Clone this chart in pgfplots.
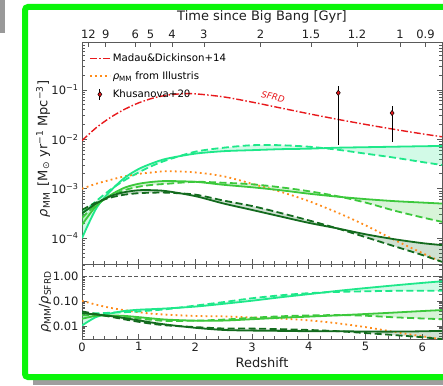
\documentclass[border=0pt]{standalone}
\usepackage{pgfplots}
\pgfplotsset{compat=1.18}
\usepackage{pgfplotstable}
\usepackage{fontspec}
\setmainfont{DejaVu Sans}

\definecolor{mdred}{HTML}{E8191C}
\definecolor{illorange}{HTML}{FF8C1A}
\definecolor{gbright}{HTML}{1EE88A}
\definecolor{gmid}{HTML}{3CC83C}
\definecolor{gdark}{HTML}{136B1E}
\definecolor{framegreen}{HTML}{0AF50A}
\definecolor{spine}{HTML}{5A5A5A}

% cosmic density of molecular mass (solid / dashed model pairs) and Illustris
\pgfplotstableread{
z     bgs      bgd      mgs      mgd      dgs      dgd      ill
0     1.00e-4  3.16e-4  1.86e-4  2.57e-4  3.16e-4  3.72e-4  1.00e-3
0.25  3.98e-4  5.62e-4  4.47e-4  4.79e-4  5.01e-4  5.25e-4  1.26e-3
0.5   8.91e-4  9.55e-4  7.41e-4  7.08e-4  7.08e-4  6.61e-4  1.51e-3
0.75  1.66e-3  1.48e-3  1.05e-3  9.33e-4  8.51e-4  7.59e-4  1.78e-3
1     2.51e-3  2.14e-3  1.26e-3  1.10e-3  9.33e-4  8.13e-4  2.00e-3
1.25  3.31e-3  2.95e-3  1.38e-3  1.20e-3  9.33e-4  8.32e-4  2.14e-3
1.5   4.07e-3  3.80e-3  1.43e-3  1.26e-3  8.91e-4  8.32e-4  2.26e-3
2     5.13e-3  5.62e-3  1.38e-3  1.38e-3  7.08e-4  7.59e-4  2.14e-3
2.5   5.75e-3  6.76e-3  1.20e-3  1.32e-3  5.01e-4  5.75e-4  1.78e-3
3     6.03e-3  7.59e-3  1.07e-3  1.23e-3  3.72e-4  4.47e-4  1.26e-3
3.5   6.31e-3  7.59e-3  9.33e-4  1.07e-3  2.75e-4  3.24e-4  8.71e-4
4     6.46e-3  7.08e-3  7.94e-4  8.91e-4  2.04e-4  2.29e-4  5.62e-4
4.5   6.76e-3  6.17e-3  6.92e-4  7.08e-4  1.58e-4  1.58e-4  3.31e-4
5     6.92e-3  5.13e-3  6.17e-4  5.25e-4  1.20e-4  1.05e-4  1.82e-4
5.5   7.08e-3  4.27e-3  5.62e-4  3.63e-4  9.55e-5  6.92e-5  9.33e-5
6     7.24e-3  3.47e-3  5.25e-4  2.63e-4  7.94e-5  4.57e-5  5.01e-5
6.35  7.33e-3  3.02e-3  5.01e-4  2.14e-4  7.24e-5  3.31e-5  3.31e-5
}\rhotab

% the same densities divided by the SFRD
\pgfplotstableread{
z     bgs       bgd       mgs       mgd       dgs       dgd       ill
0     1.059e-2  3.35e-2   1.972e-2  2.723e-2  3.35e-2   3.936e-2  0.1059
0.25  2.328e-2  3.29e-2   2.612e-2  2.799e-2  2.931e-2  3.069e-2  7.362e-2
0.5   3.236e-2  3.467e-2  2.692e-2  2.570e-2  2.570e-2  2.399e-2  5.495e-2
0.75  4.10e-2   3.656e-2  2.588e-2  2.307e-2  2.104e-2  1.875e-2  4.395e-2
1     4.60e-2   3.917e-2  2.307e-2  2.009e-2  1.710e-2  1.489e-2  3.656e-2
1.25  4.875e-2  4.345e-2  2.032e-2  1.770e-2  1.374e-2  1.225e-2  3.148e-2
1.5   5.21e-2   4.864e-2  1.828e-2  1.611e-2  1.140e-2  1.064e-2  2.897e-2
2     6.166e-2  6.761e-2  1.660e-2  1.660e-2  8.511e-3  9.120e-3  2.570e-2
2.5   8.0e-2    9.397e-2  1.671e-2  1.832e-2  6.966e-3  7.998e-3  2.472e-2
3     0.1067    0.1343    1.897e-2  2.178e-2  6.577e-3  7.907e-3  2.228e-2
3.5   0.1466    0.1762    2.168e-2  2.489e-2  6.397e-3  7.516e-3  2.023e-2
4     0.1963    0.2153    2.415e-2  2.710e-2  6.209e-3  6.966e-3  1.710e-2
4.5   0.2655    0.2421    2.716e-2  2.780e-2  6.223e-3  6.223e-3  1.300e-2
5     0.3459    0.2564    3.083e-2  2.624e-2  6.012e-3  5.236e-3  9.099e-3
5.5   0.4436    0.2673    3.524e-2  2.275e-2  5.984e-3  4.335e-3  5.848e-3
6     0.5610    0.2685    4.064e-2  2.037e-2  6.152e-3  3.540e-3  3.882e-3
6.35  0.6516    0.2685    4.457e-2  1.901e-2  6.442e-3  2.944e-3  2.944e-3
}\ratiotab

\tikzset{
  mdstyle/.style={mdred, line width=1.4pt, dash pattern=on 7pt off 2.2pt on 1.5pt off 2.2pt},
  illstyle/.style={illorange, line width=1.8pt, dash pattern=on 1.8pt off 3.2pt},
}

\pgfplotsset{
  panel/.style={
    scale only axis, width=360pt, xmin=0, xmax=6.35,
    axis line style={spine, line width=0.8pt},
    tick style={spine, line width=0.7pt},
    major tick length=5pt, minor tick length=2.8pt, tick align=inside,
    ticklabel style={font=\fontsize{11.5}{13}\selectfont, text=black!88},
    label style={font=\fontsize{13}{15}\selectfont, text=black!88},
    /pgf/number format/assume math mode=true,
    xtick={0,...,6}, minor x tick num=4, ytick pos=both,
  },
  solidline/.style={#1, line width=1.8pt, smooth},
  dashline/.style={#1, line width=1.8pt, smooth, dash pattern=on 7pt off 3.5pt},
  band/.style={fill=#1, fill opacity=0.2, draw=none, forget plot},
}

\begin{document}
\begin{tikzpicture}
\useasboundingbox (0pt,0pt) rectangle (443pt,385pt);
% window frame
\fill[black!38] (33pt,0pt) rectangle (443pt,372pt);
\draw[framegreen, line width=6pt, rounded corners=3pt, fill=white] (25pt,8pt) rectangle (470pt,378pt);
\fill[black!40] (0pt,352pt) rectangle (5pt,385pt);

% upper panel: molecular mass density
\begin{axis}[panel, at={(82pt,121pt)}, anchor=south west, height=222pt,
  ymode=log, ymin=3e-5, ymax=0.93,
  xticklabels={}, xtick pos=bottom,
  ytick={1e-4,1e-3,1e-2,1e-1},
  yticklabels={10\textsuperscript{−4},10\textsuperscript{−3},10\textsuperscript{−2},10\textsuperscript{−1}},
  minor ytick={3e-5,4e-5,5e-5,6e-5,7e-5,8e-5,9e-5,2e-4,3e-4,4e-4,5e-4,6e-4,7e-4,8e-4,9e-4,
    2e-3,3e-3,4e-3,5e-3,6e-3,7e-3,8e-3,9e-3,2e-2,3e-2,4e-2,5e-2,6e-2,7e-2,8e-2,9e-2,
    2e-1,3e-1,4e-1,5e-1,6e-1,7e-1,8e-1,9e-1},
  ylabel={{\itshape ρ}\textsubscript{MM}\enspace[M\textsubscript{⊙} yr\textsuperscript{−1} Mpc\textsuperscript{−3}]},
  ylabel style={at={(axis description cs:-0.108,0.518)}, anchor=center},
  legend style={at={(axis description cs:0.016,0.962)}, anchor=north west, draw=none, fill=none,
    font=\fontsize{10.2}{12}\selectfont, row sep=4.8pt, inner sep=1pt,
    /tikz/every even column/.append style={column sep=4pt}},
  legend cell align=left,
]
% shaded ranges between the solid and dashed models
\addplot[band=gbright] coordinates {(0,1.00e-4) (0.25,3.98e-4) (0.5,8.91e-4) (0.75,1.66e-3) (1,2.51e-3)
  (1.25,3.31e-3) (1.5,4.07e-3) (2,5.13e-3) (2.5,5.75e-3) (3,6.03e-3) (3.5,6.31e-3) (4,6.46e-3)
  (4.5,6.76e-3) (5,6.92e-3) (5.5,7.08e-3) (6,7.24e-3) (6.35,7.33e-3)
  (6.35,3.02e-3) (6,3.47e-3) (5.5,4.27e-3) (5,5.13e-3) (4.5,6.17e-3) (4,7.08e-3) (3.5,7.59e-3)
  (3,7.59e-3) (2.5,6.76e-3) (2,5.62e-3) (1.5,3.80e-3) (1.25,2.95e-3) (1,2.14e-3) (0.75,1.48e-3)
  (0.5,9.55e-4) (0.25,5.62e-4) (0,3.16e-4)};
\addplot[band=gmid] coordinates {(0,1.86e-4) (0.25,4.47e-4) (0.5,7.41e-4) (0.75,1.05e-3) (1,1.26e-3)
  (1.25,1.38e-3) (1.5,1.43e-3) (2,1.38e-3) (2.5,1.20e-3) (3,1.07e-3) (3.5,9.33e-4) (4,7.94e-4)
  (4.5,6.92e-4) (5,6.17e-4) (5.5,5.62e-4) (6,5.25e-4) (6.35,5.01e-4)
  (6.35,2.14e-4) (6,2.63e-4) (5.5,3.63e-4) (5,5.25e-4) (4.5,7.08e-4) (4,8.91e-4) (3.5,1.07e-3)
  (3,1.23e-3) (2.5,1.32e-3) (2,1.38e-3) (1.5,1.26e-3) (1.25,1.20e-3) (1,1.10e-3) (0.75,9.33e-4)
  (0.5,7.08e-4) (0.25,4.79e-4) (0,2.57e-4)};
\addplot[band=gdark] coordinates {(0,3.16e-4) (0.25,5.01e-4) (0.5,7.08e-4) (0.75,8.51e-4) (1,9.33e-4)
  (1.25,9.33e-4) (1.5,8.91e-4) (2,7.08e-4) (2.5,5.01e-4) (3,3.72e-4) (3.5,2.75e-4) (4,2.04e-4)
  (4.5,1.58e-4) (5,1.20e-4) (5.5,9.55e-5) (6,7.94e-5) (6.35,7.24e-5)
  (6.35,3.31e-5) (6,4.57e-5) (5.5,6.92e-5) (5,1.05e-4) (4.5,1.58e-4) (4,2.29e-4) (3.5,3.24e-4)
  (3,4.47e-4) (2.5,5.75e-4) (2,7.59e-4) (1.5,8.32e-4) (1.25,8.32e-4) (1,8.13e-4) (0.75,7.59e-4)
  (0.5,6.61e-4) (0.25,5.25e-4) (0,3.72e-4)};

\addplot[mdstyle, smooth,
  legend image code/.code={\draw[mdstyle] (0pt,0pt) -- (20pt,0pt);}]
  coordinates {(0,9.43e-3) (0.25,1.711e-2) (0.5,2.756e-2) (0.75,4.04e-2) (1,5.46e-2)
  (1.25,6.80e-2) (1.5,7.81e-2) (1.75,8.32e-2) (2,8.31e-2) (2.5,7.20e-2) (3,5.65e-2)
  (3.5,4.31e-2) (4,3.29e-2) (4.5,2.546e-2) (5,2.00e-2) (5.5,1.595e-2) (6,1.291e-2) (6.35,1.125e-2)};
\addlegendentry{Madau\&Dickinson+14}
\addplot[illstyle, smooth,
  legend image code/.code={\draw[illstyle] (0pt,0pt) -- (20pt,0pt);}]
  table[x=z, y=ill] {\rhotab};
\addlegendentry{{\itshape ρ}\textsubscript{MM} from Illustris}

\addplot[solidline=gbright, forget plot] table[x=z, y=bgs] {\rhotab};
\addplot[dashline=gbright, forget plot] table[x=z, y=bgd] {\rhotab};
\addplot[solidline=gmid, forget plot] table[x=z, y=mgs] {\rhotab};
\addplot[dashline=gmid, forget plot] table[x=z, y=mgd] {\rhotab};
\addplot[solidline=gdark, forget plot] table[x=z, y=dgs] {\rhotab};
\addplot[dashline=gdark, forget plot] table[x=z, y=dgd] {\rhotab};

% Khusanova+20 measurements with their error bars
\addplot[black, line width=1pt, forget plot] coordinates {(4.52,0.0077) (4.52,0.12)};
\addplot[black, line width=1pt, forget plot] coordinates {(5.47,0.009) (5.47,0.048)};
\addplot[only marks, mark=diamond*, mark size=2.7pt,
  mark options={fill=mdred, draw=black, line width=0.5pt},
  legend image code/.code={
    \draw[black, line width=1pt] (10pt,-5.5pt) -- (10pt,5.5pt);
    \draw[mark=diamond*, mark size=2.7pt, mark options={fill=mdred, draw=black, line width=0.5pt}]
      plot coordinates {(10pt,0pt)};}]
  coordinates {(4.52,0.087) (5.47,0.034)};
\addlegendentry{Khusanova+20}

\node[mdred, rotate=-11.6, font=\itshape\fontsize{8.8}{10}\selectfont] at (axis cs:3.37,0.072) {SFRD};
\end{axis}

% time since the Big Bang along the top
\begin{axis}[scale only axis, at={(82pt,121pt)}, anchor=south west, width=360pt, height=222pt,
  xmin=0, xmax=6.35, ymin=0, ymax=1, hide y axis, axis x line*=top,
  axis line style={spine, line width=0.8pt},
  tick style={spine, line width=0.7pt}, major tick length=5pt, tick align=inside,
  xtick={0.113,0.42,0.94,1.21,1.59,2.15,3.15,4.04,4.85,5.61,6.06},
  xticklabels={12,9,6,5,4,3,2,1.5,1.2,1,0.9},
  minor xtick={},
  ticklabel style={font=\fontsize{11.5}{13}\selectfont, text=black!88},
  xlabel={Time since Big Bang [Gyr]},
  xlabel style={font=\fontsize{13}{15}\selectfont, text=black!88},
]
\addplot[draw=none] coordinates {(0,0) (6.35,1)};
\end{axis}

% lower panel: ratio to the SFRD
\begin{axis}[panel, at={(82pt,46pt)}, anchor=south west, height=75pt,
  ymode=log, ymin=0.003, ymax=3.27, xtick pos=both,
  ytick={0.01,0.1,1}, yticklabels={0.01,0.10,1.00},
  minor ytick={0.003,0.004,0.005,0.006,0.007,0.008,0.009,0.02,0.03,0.04,0.05,0.06,0.07,0.08,0.09,
    0.2,0.3,0.4,0.5,0.6,0.7,0.8,0.9,2,3},
  xlabel={Redshift},
  ylabel={{\itshape ρ}\textsubscript{MM}/{\itshape ρ}\textsubscript{SFRD}},
  ylabel style={at={(axis description cs:-0.103,0.493)}, anchor=center},
]
\addplot[band=gbright] coordinates {(0,1.059e-2) (0.25,2.328e-2) (0.5,3.236e-2) (0.75,4.10e-2) (1,4.60e-2)
  (1.25,4.875e-2) (1.5,5.21e-2) (2,6.166e-2) (2.5,8.0e-2) (3,0.1067) (3.5,0.1466) (4,0.1963)
  (4.5,0.2655) (5,0.3459) (5.5,0.4436) (6,0.5610) (6.35,0.6516)
  (6.35,0.2685) (6,0.2685) (5.5,0.2673) (5,0.2564) (4.5,0.2421) (4,0.2153) (3.5,0.1762)
  (3,0.1343) (2.5,9.397e-2) (2,6.761e-2) (1.5,4.864e-2) (1.25,4.345e-2) (1,3.917e-2)
  (0.75,3.656e-2) (0.5,3.467e-2) (0.25,3.29e-2) (0,3.35e-2)};
\addplot[band=gmid] coordinates {(0,1.972e-2) (0.25,2.612e-2) (0.5,2.692e-2) (0.75,2.588e-2) (1,2.307e-2)
  (1.25,2.032e-2) (1.5,1.828e-2) (2,1.660e-2) (2.5,1.671e-2) (3,1.897e-2) (3.5,2.168e-2) (4,2.415e-2)
  (4.5,2.716e-2) (5,3.083e-2) (5.5,3.524e-2) (6,4.064e-2) (6.35,4.457e-2)
  (6.35,1.901e-2) (6,2.037e-2) (5.5,2.275e-2) (5,2.624e-2) (4.5,2.780e-2) (4,2.710e-2) (3.5,2.489e-2)
  (3,2.178e-2) (2.5,1.832e-2) (2,1.660e-2) (1.5,1.611e-2) (1.25,1.770e-2) (1,2.009e-2)
  (0.75,2.307e-2) (0.5,2.570e-2) (0.25,2.799e-2) (0,2.723e-2)};
\addplot[band=gdark] coordinates {(0,3.35e-2) (0.25,2.931e-2) (0.5,2.570e-2) (0.75,2.104e-2) (1,1.710e-2)
  (1.25,1.374e-2) (1.5,1.140e-2) (2,8.511e-3) (2.5,6.966e-3) (3,6.577e-3) (3.5,6.397e-3) (4,6.209e-3)
  (4.5,6.223e-3) (5,6.012e-3) (5.5,5.984e-3) (6,6.152e-3) (6.35,6.442e-3)
  (6.35,2.944e-3) (6,3.540e-3) (5.5,4.335e-3) (5,5.236e-3) (4.5,6.223e-3) (4,6.966e-3) (3.5,7.516e-3)
  (3,7.907e-3) (2.5,7.998e-3) (2,9.120e-3) (1.5,1.064e-2) (1.25,1.225e-2) (1,1.489e-2)
  (0.75,1.875e-2) (0.5,2.399e-2) (0.25,3.069e-2) (0,3.936e-2)};
\addplot[black!65, line width=1.1pt, dash pattern=on 4pt off 2.5pt] coordinates {(0,1) (6.35,1)};
\addplot[illstyle, smooth] table[x=z, y=ill] {\ratiotab};
\addplot[solidline=gbright] table[x=z, y=bgs] {\ratiotab};
\addplot[dashline=gbright] table[x=z, y=bgd] {\ratiotab};
\addplot[solidline=gmid] table[x=z, y=mgs] {\ratiotab};
\addplot[dashline=gmid] table[x=z, y=mgd] {\ratiotab};
\addplot[solidline=gdark] table[x=z, y=dgs] {\ratiotab};
\addplot[dashline=gdark] table[x=z, y=dgd] {\ratiotab};
\end{axis}
\end{tikzpicture}
\end{document}
